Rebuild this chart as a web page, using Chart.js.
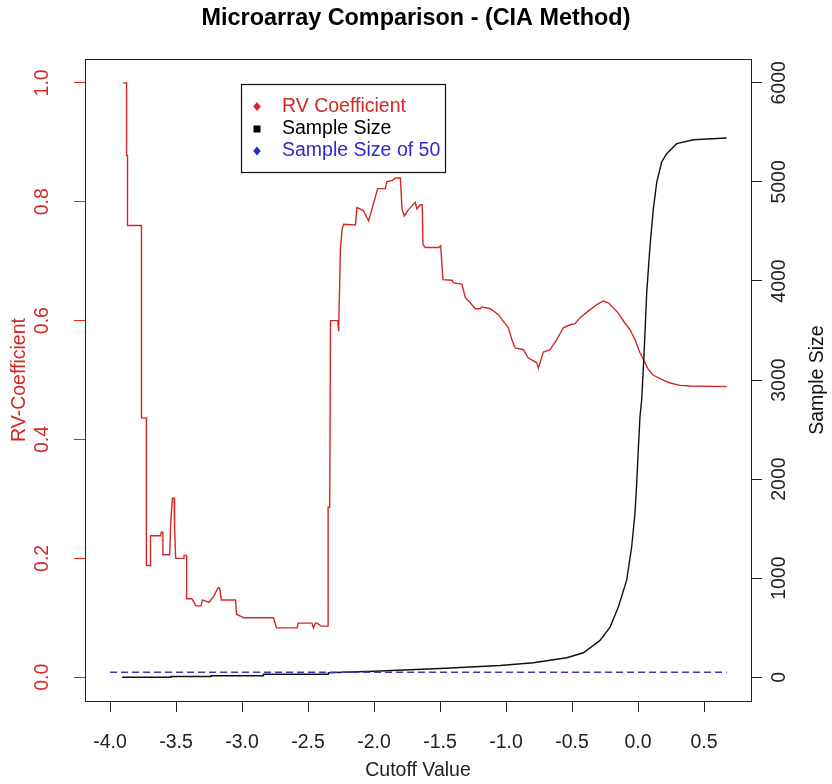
<!DOCTYPE html>
<html>
<head>
<meta charset="utf-8">
<script src="https://cdn.jsdelivr.net/npm/chart.js@4/dist/chart.umd.min.js"></script>
<style>
  html, body { margin: 0; padding: 0; background: #fff; }
</style>
</head>
<body>
<canvas id="chart" width="832" height="784"></canvas>
<script>
// axis ticks
const xTicks = [-4.0, -3.5, -3.0, -2.5, -2.0, -1.5, -1.0, -0.5, 0.0, 0.5];
const rvTicks = [0, 0.2, 0.4, 0.6, 0.8, 1.0];
const sizeTicks = [0, 1000, 2000, 3000, 4000, 5000, 6000];

// RV coefficient (step trace)
const rvCutoff = [
  -3.900, -3.875, -3.875, -3.868, -3.868, -3.762, -3.762, -3.725, -3.725, -3.697,
  -3.697, -3.692, -3.692, -3.617, -3.612, -3.600, -3.600, -3.548, -3.541, -3.528,
  -3.515, -3.511, -3.503, -3.440, -3.440, -3.420, -3.420, -3.380, -3.350, -3.310,
  -3.301, -3.250, -3.213, -3.183, -3.170, -3.157, -3.049, -3.042, -2.986, -2.762,
  -2.739, -2.582, -2.575, -2.470, -2.459, -2.445, -2.431, -2.401, -2.348, -2.348,
  -2.336, -2.330, -2.275, -2.268, -2.255, -2.242, -2.230, -2.141, -2.129, -2.080,
  -2.041, -2.023, -1.990, -1.973, -1.915, -1.902, -1.860, -1.839, -1.801, -1.788,
  -1.771, -1.745, -1.713, -1.688, -1.675, -1.650, -1.635, -1.629, -1.612, -1.511,
  -1.495, -1.478, -1.410, -1.400, -1.334, -1.309, -1.271, -1.234, -1.196, -1.183,
  -1.120, -1.057, -1.032, -0.982, -0.956, -0.931, -0.868, -0.831, -0.767, -0.755,
  -0.717, -0.667, -0.616, -0.566, -0.515, -0.477, -0.439, -0.377, -0.313, -0.263,
  -0.225, -0.150, -0.136, -0.100, -0.061, -0.023, 0.015, 0.040, 0.078, 0.116,
  0.179, 0.242, 0.318, 0.394, 0.672
];
const rvCoef = [
  1.000, 1.000, 0.878, 0.878, 0.760, 0.760, 0.436, 0.436, 0.188, 0.188,
  0.213, 0.213, 0.238, 0.238, 0.244, 0.244, 0.206, 0.206, 0.258, 0.301,
  0.301, 0.250, 0.200, 0.200, 0.205, 0.205, 0.132, 0.132, 0.120, 0.120,
  0.130, 0.126, 0.137, 0.150, 0.150, 0.130, 0.130, 0.106, 0.100, 0.100,
  0.083, 0.083, 0.091, 0.091, 0.083, 0.091, 0.091, 0.086, 0.086, 0.286,
  0.286, 0.600, 0.600, 0.582, 0.720, 0.754, 0.762, 0.761, 0.790, 0.785,
  0.768, 0.782, 0.808, 0.822, 0.822, 0.834, 0.836, 0.840, 0.840, 0.788,
  0.776, 0.785, 0.793, 0.799, 0.788, 0.795, 0.795, 0.728, 0.723, 0.723,
  0.726, 0.669, 0.668, 0.664, 0.661, 0.639, 0.630, 0.620, 0.620, 0.623,
  0.620, 0.610, 0.602, 0.588, 0.568, 0.554, 0.551, 0.537, 0.529, 0.520,
  0.547, 0.551, 0.568, 0.588, 0.593, 0.595, 0.605, 0.616, 0.627, 0.633,
  0.630, 0.613, 0.608, 0.596, 0.585, 0.568, 0.546, 0.535, 0.518, 0.508,
  0.501, 0.495, 0.491, 0.490, 0.489
];

// sample size (right axis)
const sizeCutoff = [
  -3.910, -3.540, -3.540, -3.235, -3.235, -2.838, -2.838, -2.346, -2.346, -2.000,
  -1.500, -1.045, -0.793, -0.540, -0.414, -0.288, -0.212, -0.149, -0.086, -0.048,
  -0.023, -0.010, 0.002, 0.015, 0.028, 0.045, 0.066, 0.091, 0.116, 0.142,
  0.179, 0.217, 0.293, 0.419, 0.672
];
const sampleSize = [
  0, 0, 8, 8, 15, 15, 30, 30, 45, 60,
  88, 118, 146, 197, 247, 372, 506, 709, 980, 1317,
  1655, 1959, 2296, 2634, 2803, 3242, 3884, 4356, 4728, 4998,
  5201, 5285, 5386, 5426, 5444
];

// reference line: sample size of 50
const refCutoff = [-4.0, 0.672];
const refSize = [50, 50];

const FAMILY = "'Liberation Sans', Arial, sans-serif";
const RED = '#d42828';
const BLUE = '#2c2cc8';
const baseFont = { family: FAMILY, size: 19.5 };

const toPoints = (xs, ys) => xs.map((x, i) => ({ x, y: ys[i] }));

// box around the plotting region
const framePlugin = {
  id: 'frame',
  afterDatasetsDraw(chart) {
    const { ctx, chartArea: a } = chart;
    ctx.save();
    ctx.strokeStyle = '#222';
    ctx.lineWidth = 1;
    ctx.strokeRect(Math.round(a.left) + 0.5, Math.round(a.top) + 0.5,
      Math.round(a.right - a.left), Math.round(a.bottom - a.top));
    ctx.restore();
  }
};

// boxed legend inside the plot, plus the right-hand axis title
const legendPlugin = {
  id: 'rLegend',
  afterDraw(chart) {
    const { ctx } = chart;
    const sets = chart.data.datasets;
    ctx.save();
    ctx.strokeStyle = '#111';
    ctx.lineWidth = 1.2;
    ctx.strokeRect(241.5, 84.5, 204, 88);
    ctx.font = `19.5px ${FAMILY}`;
    ctx.textBaseline = 'middle';
    ctx.textAlign = 'left';
    const rows = [106.5, 129, 151];
    sets.forEach((ds, i) => {
      const y = rows[i];
      const mx = 257;
      ctx.fillStyle = ds.legendColor;
      if (ds.marker === 'square') {
        ctx.fillRect(mx - 3.5, y - 3.5, 7, 7);
      } else {
        ctx.beginPath();
        ctx.moveTo(mx, y - 4.5);
        ctx.lineTo(mx + 3.8, y);
        ctx.lineTo(mx, y + 4.5);
        ctx.lineTo(mx - 3.8, y);
        ctx.closePath();
        ctx.fill();
      }
      ctx.fillText(ds.label, 282, y);
    });

    const r = chart.scales.y1;
    ctx.translate(818, (r.top + r.bottom) / 2);
    ctx.rotate(-Math.PI / 2);
    ctx.textAlign = 'center';
    ctx.fillStyle = '#111';
    ctx.fillText('Sample Size', 0, 0);
    ctx.restore();
  }
};

new Chart(document.getElementById('chart').getContext('2d'), {
  type: 'line',
  data: {
    datasets: [
      {
        label: 'RV Coefficient',
        data: toPoints(rvCutoff, rvCoef),
        yAxisID: 'y',
        borderColor: RED,
        borderWidth: 1.4,
        legendColor: RED,
        marker: 'diamond',
        order: 3,
      },
      {
        label: 'Sample Size',
        data: toPoints(sizeCutoff, sampleSize),
        yAxisID: 'y1',
        borderColor: '#111',
        borderWidth: 1.4,
        legendColor: '#000',
        marker: 'square',
        order: 2,
      },
      {
        label: 'Sample Size of 50',
        data: toPoints(refCutoff, refSize),
        yAxisID: 'y1',
        borderColor: '#3a3ac0',
        borderWidth: 1.3,
        borderDash: [7, 4],
        legendColor: BLUE,
        marker: 'diamond',
        order: 1,
      },
    ],
  },
  options: {
    responsive: false,
    animation: false,
    devicePixelRatio: 1,
    layout: { padding: 0 },
    elements: { point: { radius: 0 }, line: { tension: 0, fill: false } },
    plugins: {
      legend: { display: false },
      tooltip: { enabled: false },
      title: {
        display: true,
        text: 'Microarray Comparison - (CIA Method)',
        color: '#000',
        font: { family: FAMILY, size: 23.4, weight: 'bold' },
        padding: { top: 5, bottom: 26 },
      },
    },
    scales: {
      x: {
        type: 'linear',
        min: -4.19,
        max: 0.856,
        afterBuildTicks: (s) => { s.ticks = xTicks.map((v) => ({ value: v })); },
        afterFit: (s) => { s.height = 83; },
        grid: { drawOnChartArea: false, drawTicks: true, tickLength: 11, color: '#222' },
        border: { display: true, color: '#222' },
        ticks: {
          color: '#222', font: baseFont, padding: 19, autoSkip: false,
          maxRotation: 0, minRotation: 0,
          callback: (v) => Number(v).toFixed(1),
        },
        title: {
          display: true, text: 'Cutoff Value', color: '#222', font: baseFont,
          padding: { top: 0, bottom: 2 },
        },
      },
      y: {
        type: 'linear',
        position: 'left',
        min: -0.04,
        max: 1.04,
        afterBuildTicks: (s) => { s.ticks = rvTicks.map((v) => ({ value: v })); },
        afterFit: (s) => { s.width = 85; },
        grid: { drawOnChartArea: false, drawTicks: true, tickLength: 11, color: RED },
        border: { display: true, color: '#222' },
        ticks: {
          color: RED, font: baseFont, padding: 18, autoSkip: false,
          minRotation: 90, maxRotation: 90, crossAlign: 'center',
          callback: (v) => Number(v).toFixed(1),
        },
        title: {
          display: true, text: 'RV-Coefficient', color: RED, font: baseFont,
          padding: { top: 8, bottom: 0 },
        },
      },
      y1: {
        type: 'linear',
        position: 'right',
        min: -240,
        max: 6240,
        afterBuildTicks: (s) => { s.ticks = sizeTicks.map((v) => ({ value: v })); },
        afterFit: (s) => { s.width = 81; },
        grid: { drawOnChartArea: false, drawTicks: true, tickLength: 11, color: '#222' },
        border: { display: true, color: '#222' },
        ticks: {
          color: '#222', font: baseFont, padding: -4, autoSkip: false,
          minRotation: 90, maxRotation: 90, crossAlign: 'center',
          callback: (v) => String(v),
        },
      },
    },
  },
  plugins: [framePlugin, legendPlugin],
});
</script>
</body>
</html>
